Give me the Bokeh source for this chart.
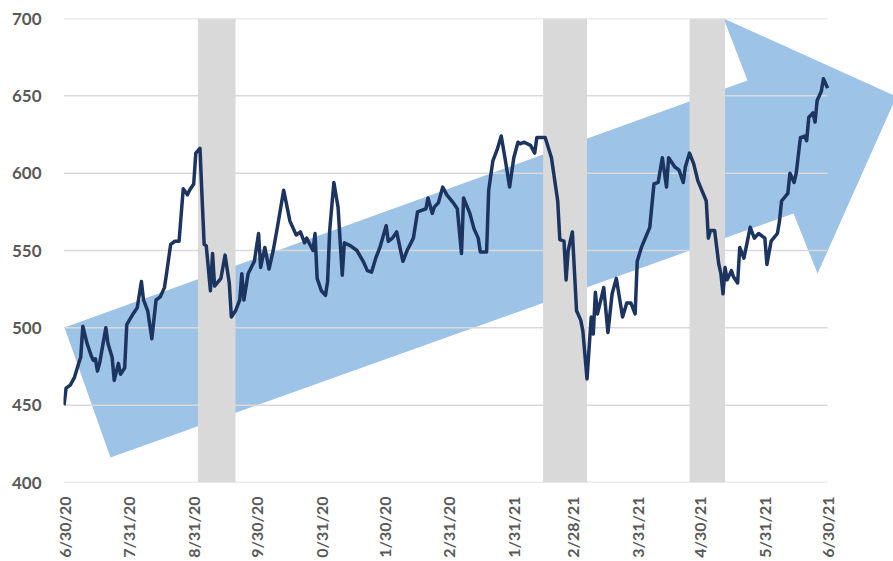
import math
import pandas as pd
from bokeh.plotting import figure
from bokeh.models import Range1d, FixedTicker, ColumnDataSource
from bokeh.embed import file_html
from bokeh.resources import INLINE

START = pd.Timestamp("2020-06-30")

# Index level by day offset from 6/30/20
day = [0, 1, 3, 5, 7, 8, 9, 11, 13, 14, 15, 16, 17, 20, 21, 23, 24, 26, 27, 29,
       30, 33, 35, 37, 38, 40, 42, 44, 46, 48, 49, 51, 53, 55, 57, 59, 60, 62, 63, 65,
       66, 67, 68, 70, 71, 72, 75, 77, 79, 80, 82, 84, 85, 86, 88, 91, 93, 94, 96, 97,
       98, 100, 102, 105, 108, 111, 113, 115, 116, 119, 120, 121, 123, 125, 126, 127, 129, 131, 133, 134,
       137, 140, 143, 145, 147, 149, 151, 154, 155, 157, 159, 162, 164, 167, 169, 171, 173, 174, 176, 177,
       179, 181, 183, 186, 188, 190, 191, 194, 196, 198, 199, 202, 203, 205, 207, 209, 211, 213, 215, 217,
       218, 220, 223, 225, 226, 230, 233, 236, 237, 239, 240, 241, 243, 245, 247, 248, 250, 252, 253, 254,
       255, 258, 260, 262, 264, 267, 269, 271, 273, 274, 276, 280, 282, 284, 286, 288, 289, 292, 294, 296,
       297, 299, 301, 303, 307, 308, 309, 311, 313, 314, 315, 316, 317, 319, 320, 322, 323, 325, 328, 330,
       332, 335, 336, 338, 341, 342, 343, 346, 347, 349, 350, 352, 354, 355, 356, 358, 359, 360, 362, 363,
       365]
level = [450, 461, 463, 468, 477, 481, 501, 490, 482, 479, 480, 472, 477, 500, 490, 481, 466, 477, 470, 474,
         502, 509, 513, 530, 518, 511, 493, 518, 520, 526, 535, 554, 556, 556, 590, 586, 589, 593, 613, 616,
         584, 554, 553, 524, 548, 527, 532, 547, 529, 507, 511, 518, 535, 518, 535, 543, 561, 539, 552, 545,
         538, 550, 565, 589, 569, 560, 562, 555, 558, 550, 561, 532, 524, 521, 530, 563, 594, 578, 534, 555,
         553, 550, 543, 537, 536, 545, 552, 566, 556, 558, 562, 543, 550, 558, 575, 576, 577, 584, 574, 578,
         581, 591, 586, 581, 577, 548, 584, 574, 564, 558, 549, 549, 589, 608, 615, 624, 608, 591, 610, 620,
         619, 620, 618, 613, 623, 623, 610, 582, 557, 556, 531, 550, 562, 511, 505, 498, 467, 507, 496, 523,
         509, 526, 497, 522, 532, 507, 516, 516, 509, 543, 552, 565, 593, 594, 610, 591, 610, 604, 602, 594,
         604, 613, 606, 595, 582, 558, 563, 563, 541, 535, 522, 539, 531, 537, 533, 529, 552, 545, 565, 558,
         561, 558, 541, 556, 561, 569, 582, 587, 600, 594, 600, 623, 624, 621, 636, 639, 633, 647, 653, 661,
         655]

# Shaded periods
band_start = ["2020-09-02", "2021-02-14", "2021-04-25"]
band_end = ["2020-09-20", "2021-03-07", "2021-05-12"]

# Month-end ticks and their printed labels
tick_dates = ["2020-06-30", "2020-07-31", "2020-08-31", "2020-09-30", "2020-10-31",
              "2020-11-30", "2020-12-31", "2021-01-31", "2021-02-28", "2021-03-31",
              "2021-04-30", "2021-05-31", "2021-06-30"]
tick_labels = ["6/30/20", "7/31/20", "8/31/20", "9/30/20", "0/31/20", "1/30/20", "2/31/20",
               "1/31/21", "2/28/21", "3/31/21", "4/30/21", "5/31/21", "6/30/21"]

y_ticks = [400, 450, 500, 550, 600, 650, 700]

# Up-trend arrow outline (day offset, level)
arrow_day = [0.24, 326.7, 315.3, 397.9, 360.2, 348.7, 22.2]
arrow_level = [500.2, 659.9, 700.0, 649.6, 535.1, 573.9, 416.1]


def to_date(offsets):
    return [START + pd.Timedelta(days=float(d)) for d in offsets]


dates = to_date(day)
end_date = pd.Timestamp(tick_dates[-1])

p = figure(width=893, height=561, x_axis_type="datetime",
           x_range=Range1d(START - pd.Timedelta(days=0.24), START + pd.Timedelta(days=396.5)),
           y_range=Range1d(400, 700),
           output_backend="svg", toolbar_location=None,
           min_border_left=63, min_border_right=0, min_border_top=18, min_border_bottom=79)
p.title.visible = False
p.outline_line_color = None
p.background_fill_color = "white"
p.border_fill_color = "white"
p.xgrid.visible = False
p.ygrid.visible = False

# trend arrow
p.patch(to_date(arrow_day), arrow_level, fill_color="#9dc3e6", line_color=None)

# horizontal gridlines
grid_src = ColumnDataSource(dict(x0=[START] * len(y_ticks), x1=[end_date] * len(y_ticks),
                                 y=y_ticks))
p.segment(x0="x0", x1="x1", y0="y", y1="y", source=grid_src,
          line_color="#d9d9d9", line_width=1.5)

# shaded periods
p.quad(left=[pd.Timestamp(d) for d in band_start], right=[pd.Timestamp(d) for d in band_end],
       bottom=400, top=700, fill_color="#d9d9d9", line_color=None)

# index line
p.line(dates, level, line_color="#1c3460", line_width=3.5, line_join="round")

# axes
tick_ms = [pd.Timestamp(d).value // 10**6 for d in tick_dates]
p.xaxis.ticker = FixedTicker(ticks=tick_ms)
p.xaxis.major_label_overrides = {t: lab for t, lab in zip(tick_ms, tick_labels)}
p.xaxis.major_label_orientation = math.pi / 2
p.xaxis.axis_line_color = None
p.xaxis.major_tick_line_color = None
p.xaxis.minor_tick_line_color = None
p.xaxis.major_tick_out = 0
p.xaxis.major_label_standoff = 14
p.xaxis.major_label_text_font = "Lato"
p.xaxis.major_label_text_font_size = "16px"
p.xaxis.major_label_text_font_style = "bold"
p.xaxis.major_label_text_color = "#595959"

p.yaxis.ticker = FixedTicker(ticks=y_ticks)
p.yaxis.axis_line_color = None
p.yaxis.major_tick_line_color = None
p.yaxis.minor_tick_line_color = None
p.yaxis.major_tick_out = 0
p.yaxis.major_label_standoff = 22
p.yaxis.major_label_text_font = "Lato"
p.yaxis.major_label_text_font_size = "17px"
p.yaxis.major_label_text_font_style = "bold"
p.yaxis.major_label_text_color = "#595959"

open("out.html", "w").write(file_html(p, INLINE))
